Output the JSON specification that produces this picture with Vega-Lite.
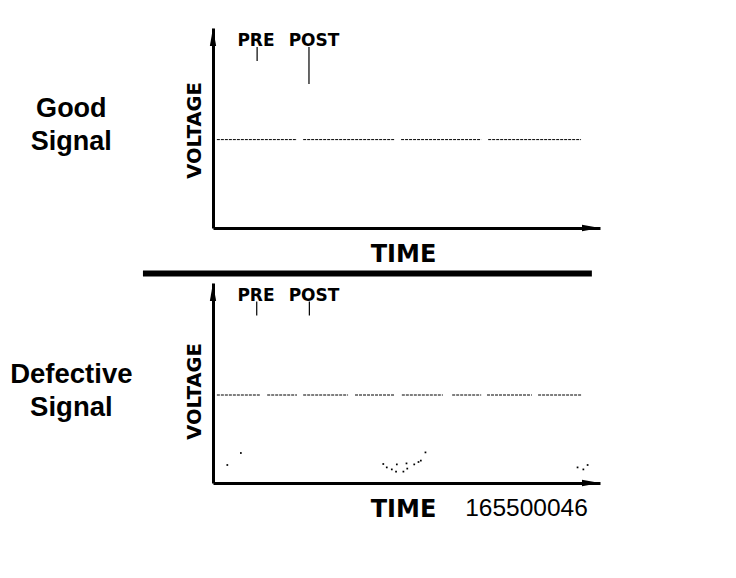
{
  "$schema": "https://vega.github.io/schema/vega-lite/v6.json",
  "background": "white",
  "padding": {"left": 10, "top": 28, "right": 5, "bottom": 5},
  "bounds": "flush",
  "spacing": 55,
  "config": {
    "view": {"stroke": null},
    "axis": {"grid": false, "ticks": false, "labels": false, "domainColor": "black", "domainWidth": 3, "titleColor": "black", "titleFont": "DejaVu Sans", "titleFontWeight": "bold"},
    "axisX": {"titleFontSize": 24, "titleBaseline": "alphabetic", "titlePadding": 33, "titleX": 190},
    "axisY": {"titleFontSize": 19.5, "titleBaseline": "alphabetic", "titlePadding": 13}
  },
  "vconcat": [
    {
      "width": 387,
      "height": 200,
      "encoding": {
        "x": {"field": "time", "type": "quantitative", "scale": {"domain": [0, 100], "nice": false, "zero": false}, "axis": {"title": "TIME"}},
        "y": {"field": "voltage", "type": "quantitative", "scale": {"domain": [0, 100], "nice": false, "zero": false}, "axis": {"title": "VOLTAGE", "titleY": 102}}
      },
      "layer": [
        {
          "data": {"values": [
            {"time": 1.0, "time_end": 21.7, "voltage": 44.2},
            {"time": 23.3, "time_end": 46.8, "voltage": 44.2},
            {"time": 48.6, "time_end": 69.3, "voltage": 44.2},
            {"time": 71.1, "time_end": 95.1, "voltage": 44.2}
          ]},
          "mark": {"type": "rule", "strokeWidth": 1, "strokeDash": [3, 1], "color": "black"},
          "encoding": {"x2": {"field": "time_end"}}
        },
        {
          "data": {"values": [
            {"label": "PRE", "time": 11.4, "voltage": 90.5, "voltage_end": 83.5},
            {"label": "POST", "time": 24.8, "voltage": 90.5, "voltage_end": 72}
          ]},
          "mark": {"type": "rule", "strokeWidth": 1.2, "color": "black"},
          "encoding": {"y2": {"field": "voltage_end"}}
        },
        {
          "data": {"values": [
            {"label": "PRE", "time": 11.1, "voltage": 91},
            {"label": "POST", "time": 26.1, "voltage": 91}
          ]},
          "mark": {"type": "text", "font": "DejaVu Sans", "fontWeight": "bold", "fontSize": 17, "baseline": "alphabetic", "align": "center", "color": "black"},
          "encoding": {"text": {"field": "label"}}
        },
        {
          "data": {"values": [{"label": "Good\nSignal", "time": -36.6, "voltage": 55.5}]},
          "mark": {"type": "text", "font": "Liberation Sans", "fontWeight": "bold", "fontSize": 27, "lineBreak": "\n", "lineHeight": 33, "baseline": "alphabetic", "align": "center", "color": "black"},
          "encoding": {"text": {"field": "label"}}
        },
        {
          "data": {"values": [{"time": 100, "voltage": 0}]},
          "mark": {"type": "point", "shape": "M0,0L-2,-0.35L-2,0.35Z", "size": 324, "filled": true, "opacity": 1, "color": "black"}
        },
        {
          "data": {"values": [{"time": 0, "voltage": 100}]},
          "mark": {"type": "point", "shape": "M0,0L-0.35,2L0.35,2Z", "size": 324, "filled": true, "opacity": 1, "color": "black"}
        },
        {
          "data": {"values": [{"time": -18.1, "time_end": 97.9, "voltage": -22.8}]},
          "mark": {"type": "rule", "strokeWidth": 6, "color": "black"},
          "encoding": {"x2": {"field": "time_end"}}
        }
      ]
    },
    {
      "width": 387,
      "height": 200,
      "encoding": {
        "x": {"field": "time", "type": "quantitative", "scale": {"domain": [0, 100], "nice": false, "zero": false}, "axis": {"title": "TIME"}},
        "y": {"field": "voltage", "type": "quantitative", "scale": {"domain": [0, 100], "nice": false, "zero": false}, "axis": {"title": "VOLTAGE", "titleY": 108}}
      },
      "layer": [
        {
          "data": {"values": [
            {"time": 1.0, "time_end": 12.1, "voltage": 44},
            {"time": 14.0, "time_end": 21.7, "voltage": 44},
            {"time": 23.3, "time_end": 34.9, "voltage": 44},
            {"time": 36.7, "time_end": 46.8, "voltage": 44},
            {"time": 48.8, "time_end": 59.4, "voltage": 44},
            {"time": 61.8, "time_end": 69.3, "voltage": 44},
            {"time": 70.8, "time_end": 82.4, "voltage": 44},
            {"time": 84.0, "time_end": 95.3, "voltage": 44}
          ]},
          "mark": {"type": "rule", "strokeWidth": 1, "strokeDash": [3, 1], "color": "black"},
          "encoding": {"x2": {"field": "time_end"}}
        },
        {
          "data": {"values": [
            {"label": "PRE", "time": 11.3, "voltage": 90.7, "voltage_end": 83.7},
            {"label": "POST", "time": 24.9, "voltage": 90.7, "voltage_end": 83.7}
          ]},
          "mark": {"type": "rule", "strokeWidth": 1.2, "color": "black"},
          "encoding": {"y2": {"field": "voltage_end"}}
        },
        {
          "data": {"values": [
            {"label": "PRE", "time": 11.1, "voltage": 91},
            {"label": "POST", "time": 26.1, "voltage": 91}
          ]},
          "mark": {"type": "text", "font": "DejaVu Sans", "fontWeight": "bold", "fontSize": 17, "baseline": "alphabetic", "align": "center", "color": "black"},
          "encoding": {"text": {"field": "label"}}
        },
        {
          "data": {"values": [{"label": "Defective\nSignal", "time": -36.6, "voltage": 50}]},
          "mark": {"type": "text", "font": "Liberation Sans", "fontWeight": "bold", "fontSize": 27.5, "lineBreak": "\n", "lineHeight": 32.5, "baseline": "alphabetic", "align": "center", "color": "black"},
          "encoding": {"text": {"field": "label"}}
        },
        {
          "data": {"values": [{"label": "165500046", "time": 81, "voltage": -16.5}]},
          "mark": {"type": "text", "font": "Liberation Sans", "fontSize": 24.5, "baseline": "alphabetic", "align": "center", "color": "black"},
          "encoding": {"text": {"field": "label"}}
        },
        {
          "data": {"values": [
            {"time": 3.7, "voltage": 9},
            {"time": 7.2, "voltage": 15},
            {"time": 44.0, "voltage": 9.5},
            {"time": 44.9, "voltage": 7.8},
            {"time": 46.2, "voltage": 6.8},
            {"time": 47.3, "voltage": 5.7},
            {"time": 47.5, "voltage": 9.3},
            {"time": 49.2, "voltage": 5.7},
            {"time": 50.2, "voltage": 7.2},
            {"time": 50.0, "voltage": 9.8},
            {"time": 52.0, "voltage": 9.3},
            {"time": 53.1, "voltage": 10.5},
            {"time": 53.7, "voltage": 11.2},
            {"time": 54.9, "voltage": 15.3},
            {"time": 94.2, "voltage": 7.8},
            {"time": 95.7, "voltage": 6.8},
            {"time": 96.8, "voltage": 9}
          ]},
          "mark": {"type": "point", "shape": "square", "size": 3, "filled": true, "opacity": 1, "color": "black"}
        },
        {
          "data": {"values": [{"time": 100, "voltage": 0}]},
          "mark": {"type": "point", "shape": "M0,0L-2,-0.35L-2,0.35Z", "size": 324, "filled": true, "opacity": 1, "color": "black"}
        },
        {
          "data": {"values": [{"time": 0, "voltage": 100}]},
          "mark": {"type": "point", "shape": "M0,0L-0.35,2L0.35,2Z", "size": 324, "filled": true, "opacity": 1, "color": "black"}
        }
      ]
    }
  ]
}
